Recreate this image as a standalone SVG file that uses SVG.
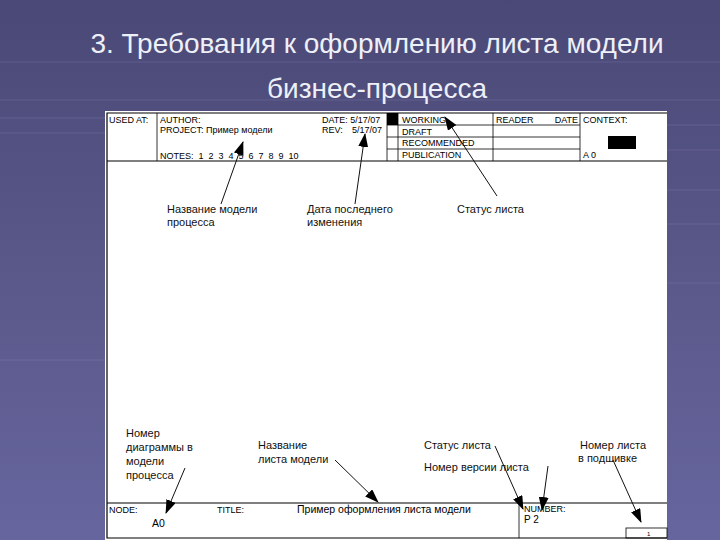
<svg xmlns="http://www.w3.org/2000/svg" width="720" height="540" viewBox="0 0 720 540">
<defs>
<linearGradient id="bg" x1="0" y1="0" x2="0" y2="1">
<stop offset="0" stop-color="#4a4876"/>
<stop offset="0.5" stop-color="#5a5889"/>
<stop offset="1" stop-color="#66659e"/>
</linearGradient>
<marker id="ah" markerUnits="userSpaceOnUse" markerWidth="14" markerHeight="10" refX="13" refY="5" orient="auto">
<path d="M0,0 L14,5 L0,10 Z" fill="#000"/>
</marker>
<style>
.t{font-family:"Liberation Sans",Arial,sans-serif;fill:#000}
.h{font-size:9px;white-space:pre}
.a{font-size:11px;fill:#111}
.ttl{font-family:"Liberation Sans",Arial,sans-serif;font-size:28px;fill:#eef0f8}
.fr{stroke:#000;stroke-width:1.2;fill:none}
.ln{stroke:#000;stroke-width:0.8;fill:none}
.ar{stroke:#111;stroke-width:1;fill:none;marker-end:url(#ah)}
.st{stroke:#8886b8;stroke-width:1.5;opacity:0.2}
</style>
</defs>
<rect width="720" height="540" fill="url(#bg)"/>
<g id="stripes">
<line class="st" x1="0" y1="62" x2="720" y2="62"/>
<line class="st" x1="0" y1="100" x2="720" y2="100"/>
<line class="st" x1="0" y1="118" x2="105" y2="118"/>
<line class="st" x1="0" y1="133" x2="105" y2="133"/>
<line class="st" x1="667" y1="125" x2="720" y2="125"/>
<line class="st" x1="667" y1="150" x2="720" y2="150"/>
<line class="st" x1="667" y1="190" x2="720" y2="190"/>
<line class="st" x1="667" y1="224" x2="720" y2="224"/>
<line class="st" x1="0" y1="360" x2="105" y2="360"/>
<line class="st" x1="667" y1="283" x2="720" y2="283"/>
</g>
<g id="title">
<text class="ttl" x="377" y="53" text-anchor="middle">3. Требования к оформлению листа модели</text>
<text class="ttl" x="377" y="98" text-anchor="middle">бизнес-процесса</text>
</g>
<g id="sheet">
<rect x="105" y="111" width="562" height="429" fill="#fff"/>
<polyline class="fr" points="667,113 107,113 107,538 667,538"/>
<line class="fr" x1="107" y1="161" x2="667" y2="161"/>
<line class="fr" x1="107" y1="503" x2="667" y2="503"/>
</g>
<g id="header">
<line class="ln" x1="157" y1="113" x2="157" y2="161"/>
<line class="ln" x1="387" y1="113" x2="387" y2="161"/>
<line class="ln" x1="398" y1="113" x2="398" y2="161"/>
<line class="ln" x1="493" y1="113" x2="493" y2="161"/>
<line class="ln" x1="580" y1="113" x2="580" y2="161"/>
<line class="ln" x1="387" y1="125" x2="580" y2="125"/>
<line class="ln" x1="387" y1="137" x2="580" y2="137"/>
<line class="ln" x1="387" y1="149" x2="580" y2="149"/>
<rect x="387" y="113" width="11" height="12" fill="#000"/>
<rect x="608" y="136" width="28" height="13" fill="#000"/>
<text class="t h" x="109" y="123">USED AT:</text>
<text class="t h" x="160" y="123">AUTHOR:</text>
<text class="t h" x="160" y="133">PROJECT:</text>
<text class="t h" x="206" y="133">Пример модели</text>
<text class="t h" x="160" y="159">NOTES:  1  2  3  4  5  6  7  8  9  10</text>
<text class="t h" x="322" y="123">DATE: 5/17/07</text>
<text class="t h" x="322" y="133">REV:</text>
<text class="t h" x="352" y="133">5/17/07</text>
<text class="t h" x="402" y="123">WORKING</text>
<text class="t h" x="402" y="135">DRAFT</text>
<text class="t h" x="402" y="146">RECOMMENDED</text>
<text class="t h" x="402" y="158">PUBLICATION</text>
<text class="t h" x="496" y="123">READER</text>
<text class="t h" x="578" y="123" text-anchor="end">DATE</text>
<text class="t h" x="583" y="123">CONTEXT:</text>
<text class="t h" x="583" y="158">A 0</text>
</g>
<g id="footer">
<line class="ln" x1="519" y1="503" x2="519" y2="538"/>
<rect class="ln" x="626" y="528" width="41" height="10"/>
<text class="t h" x="109" y="513">NODE:</text>
<text class="t" x="152" y="527" font-size="10.5">A0</text>
<text class="t h" x="217" y="513">TITLE:</text>
<text class="t" x="297" y="513" font-size="10.5">Пример оформления листа модели</text>
<text class="t h" x="524" y="512">NUMBER:</text>
<text class="t" x="524" y="523" font-size="10">P 2</text>
<text class="t" x="647" y="536" font-size="6" fill="#888">1</text>
</g>
<g id="notes">
<text class="t a" x="167" y="213">Название модели</text>
<text class="t a" x="167" y="226">процесса</text>
<text class="t a" x="307" y="213">Дата последнего</text>
<text class="t a" x="307" y="226">изменения</text>
<text class="t a" x="457" y="213">Статус листа</text>
<text class="t a" x="126" y="437">Номер</text>
<text class="t a" x="126" y="451">диаграммы в</text>
<text class="t a" x="126" y="465">модели</text>
<text class="t a" x="126" y="479">процесса</text>
<text class="t a" x="258" y="449">Название</text>
<text class="t a" x="258" y="463">листа модели</text>
<text class="t a" x="424" y="449">Статус листа</text>
<text class="t a" x="424" y="471">Номер версии листа</text>
<text class="t a" x="580" y="449">Номер листа</text>
<text class="t a" x="578" y="462">в подшивке</text>
</g>
<g id="connectors">
<line class="ar" x1="221" y1="204" x2="243" y2="142"/>
<line class="ar" x1="355" y1="204" x2="365" y2="134"/>
<line class="ar" x1="497" y1="196" x2="445" y2="117"/>
<line class="ar" x1="185" y1="468" x2="166" y2="513"/>
<line class="ar" x1="335" y1="460" x2="378" y2="502"/>
<line class="ar" x1="495" y1="446" x2="523" y2="509"/>
<line class="ar" x1="548" y1="466" x2="542" y2="510"/>
<line class="ar" x1="613" y1="460" x2="641" y2="522"/>
</g>
</svg>
